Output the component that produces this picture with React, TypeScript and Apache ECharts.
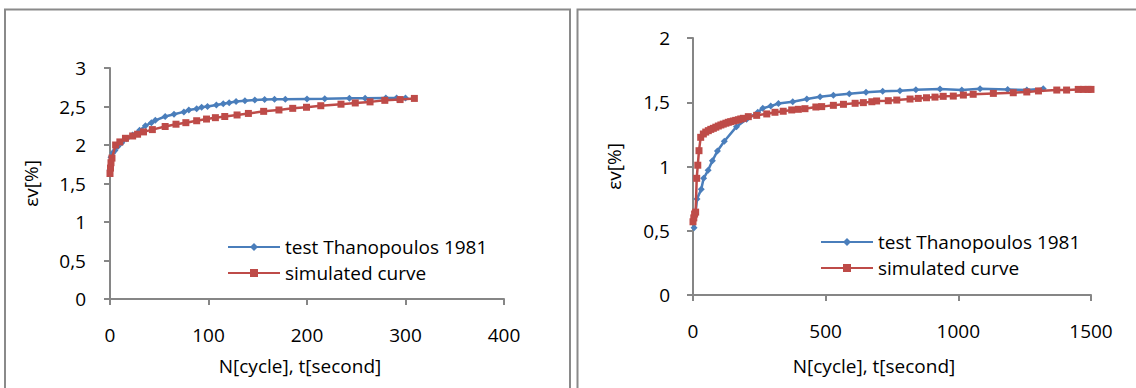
import React, { useEffect, useRef } from "react";
import * as echarts from "echarts";

// Left chart data: [N, εv]
const leftTest: number[][] = [
  [0, 1.68], [1, 1.84], [3, 1.9], [5, 1.93], [8, 1.98], [12, 2.03], [17, 2.08], [23, 2.13],
  [30, 2.19], [36, 2.25], [42, 2.29], [46, 2.32], [56, 2.37], [65, 2.4], [75, 2.43],
  [80, 2.455], [88, 2.47], [93, 2.49], [99, 2.5], [108, 2.52], [115, 2.535], [121, 2.55],
  [128, 2.565], [137, 2.575], [147, 2.584], [157, 2.59], [167, 2.593], [178, 2.593],
  [200, 2.597], [218, 2.6], [243, 2.606], [259, 2.606], [280, 2.61], [291, 2.61], [300, 2.61],
];
const leftSim: number[][] = [
  [0, 1.63], [0.5, 1.7], [1, 1.77], [2, 1.83], [5.7, 2.0], [10, 2.04], [15.7, 2.087],
  [23, 2.117], [28, 2.14], [34, 2.17], [43, 2.2], [56, 2.24], [67, 2.27], [77, 2.29],
  [88, 2.315], [98, 2.337], [107, 2.355], [116.5, 2.37], [129, 2.39], [140.5, 2.41],
  [156, 2.437], [171.5, 2.455], [185.5, 2.476], [199.5, 2.49], [214, 2.51], [234.5, 2.53],
  [249, 2.546], [264, 2.56], [279, 2.58], [294.5, 2.59], [309, 2.605],
];
// Right chart data
const rightTest: number[][] = [
  [4, 0.524], [15, 0.747], [31, 0.822], [40, 0.908], [57, 0.97], [73, 1.045], [92, 1.12],
  [118, 1.196], [164, 1.31], [202, 1.367], [244, 1.422], [263, 1.453], [293, 1.47],
  [322, 1.49], [376, 1.504], [429, 1.525], [479, 1.543], [529, 1.554], [589, 1.566],
  [652, 1.577], [715, 1.585], [780, 1.59], [840, 1.598], [931, 1.603], [1013, 1.595],
  [1082, 1.605], [1186, 1.6], [1258, 1.595], [1320, 1.605],
];
const rightSim: number[][] = [
  [0, 0.57], [3, 0.6], [6, 0.63], [10, 0.645], [14, 0.908], [18, 1.01], [22.6, 1.123],
  [29, 1.227], [39, 1.253], [48, 1.268], [57.7, 1.279], [67, 1.289], [76.6, 1.297],
  [86, 1.306], [95.4, 1.315], [105, 1.323], [114, 1.33], [124, 1.337], [133, 1.344],
  [142, 1.349], [152, 1.354], [161, 1.359], [171, 1.364], [180, 1.37], [190, 1.375],
  [208.5, 1.388], [240, 1.398], [278, 1.409], [309, 1.422], [340, 1.43], [372, 1.44],
  [397, 1.445], [422, 1.45], [463, 1.463], [485, 1.466], [529, 1.476], [567, 1.484],
  [611, 1.492], [642, 1.497], [674, 1.504], [692, 1.51], [736, 1.512], [768, 1.517],
  [818, 1.525], [849, 1.53], [880, 1.535], [912, 1.54], [943, 1.546], [981, 1.548],
  [1019, 1.556], [1056, 1.562], [1132, 1.569], [1207, 1.574], [1258, 1.58], [1302, 1.588],
  [1371, 1.595], [1408, 1.595], [1452, 1.6], [1471, 1.6], [1489, 1.6], [1500, 1.6],
];

const testName = "test Thanopoulos 1981";
const simName = "simulated curve";
const xTitle = "N[cycle], t[second]";
const yTitle = "εv[%]";

const FONT = "Open Sans";
const FS = 19;
const BLUE = "#4A7EBB";
const RED = "#BE4B48";
const AXIS = "#868686";

function axisBase(min: number, max: number, interval: number) {
  return {
    type: "value" as const,
    min,
    max,
    interval,
    splitLine: { show: false },
    axisLine: { show: true, onZero: false, lineStyle: { color: AXIS, width: 2 } },
    axisTick: { show: true, inside: false, length: 6, lineStyle: { color: AXIS, width: 2 } },
  };
}

export default function App() {
  const ref = useRef<HTMLDivElement>(null);
  useEffect(() => {
    if (!ref.current) return;
    const chart = echarts.init(ref.current, undefined, { renderer: "svg" });
    const fmt = (v: number) => String(v).replace(".", ",");
    const labelStyle = { color: "#000", fontFamily: FONT, fontSize: FS };
    const nameStyle = { color: "#000", fontFamily: FONT, fontSize: FS };
    const lineSeries = (name: string, data: number[][], idx: number, blue: boolean) => ({
      name,
      type: "line",
      xAxisIndex: idx,
      yAxisIndex: idx,
      data,
      symbol: blue ? "diamond" : "rect",
      symbolSize: 7,
      showSymbol: true,
      lineStyle: { color: blue ? BLUE : RED, width: 2.5 },
      itemStyle: { color: blue ? BLUE : RED },
      z: blue ? 2 : 3,
    });
    const legendBase = {
      orient: "vertical" as const,
      padding: 0,
      itemWidth: 52,
      itemHeight: 10,
      itemGap: 6,
      textStyle: { color: "#000", fontFamily: FONT, fontSize: FS, lineHeight: 20 },
      data: [testName, simName],
      selectedMode: false,
    };
    chart.setOption({
      animation: false,
      backgroundColor: "#fff",
      grid: [
        { left: 110, top: 68, width: 394, height: 231 },
        { left: 693, top: 38, width: 398, height: 257 },
      ],
      xAxis: [
        {
          ...axisBase(0, 400, 100),
          gridIndex: 0,
          axisLabel: { ...labelStyle, margin: 26, formatter: (v: number) => String(v) },
          name: xTitle,
          nameLocation: "middle",
          nameGap: 57,
          nameTextStyle: { ...nameStyle, padding: [0, 14, 0, 0] },
        },
        {
          ...axisBase(0, 1500, 500),
          gridIndex: 1,
          axisLabel: { ...labelStyle, margin: 26, formatter: (v: number) => String(v) },
          name: xTitle,
          nameLocation: "middle",
          nameGap: 61,
          nameTextStyle: { ...nameStyle, padding: [0, 36, 0, 0] },
        },
      ],
      yAxis: [
        {
          ...axisBase(0, 3, 0.5),
          gridIndex: 0,
          axisLabel: { ...labelStyle, margin: 24, formatter: fmt },
          name: yTitle,
          nameLocation: "middle",
          nameGap: 70,
          nameTextStyle: nameStyle,
        },
        {
          ...axisBase(0, 2, 0.5),
          gridIndex: 1,
          axisLabel: { ...labelStyle, margin: 23, formatter: fmt },
          name: yTitle,
          nameLocation: "middle",
          nameGap: 70,
          nameTextStyle: nameStyle,
        },
      ],
      legend: [
        { ...legendBase, left: 227, top: 237 },
        { ...legendBase, left: 820, top: 232 },
      ],
      graphic: [
        {
          type: "rect",
          shape: { x: 5, y: 9.5, width: 565, height: 400 },
          style: { fill: "none", stroke: "#8a8a8a", lineWidth: 2 },
          silent: true,
        },
        {
          type: "rect",
          shape: { x: 577.5, y: 9.5, width: 580, height: 400 },
          style: { fill: "none", stroke: "#8a8a8a", lineWidth: 2 },
          silent: true,
        },
      ],
      series: [
        lineSeries(testName, leftTest, 0, true),
        lineSeries(simName, leftSim, 0, false),
        lineSeries(testName, rightTest, 1, true),
        lineSeries(simName, rightSim, 1, false),
      ],
    });
    return () => chart.dispose();
  }, []);
  return (
    <div
      ref={ref}
      style={{ position: "absolute", left: 0, top: 0, width: 1136, height: 388, background: "#fff" }}
    />
  );
}
